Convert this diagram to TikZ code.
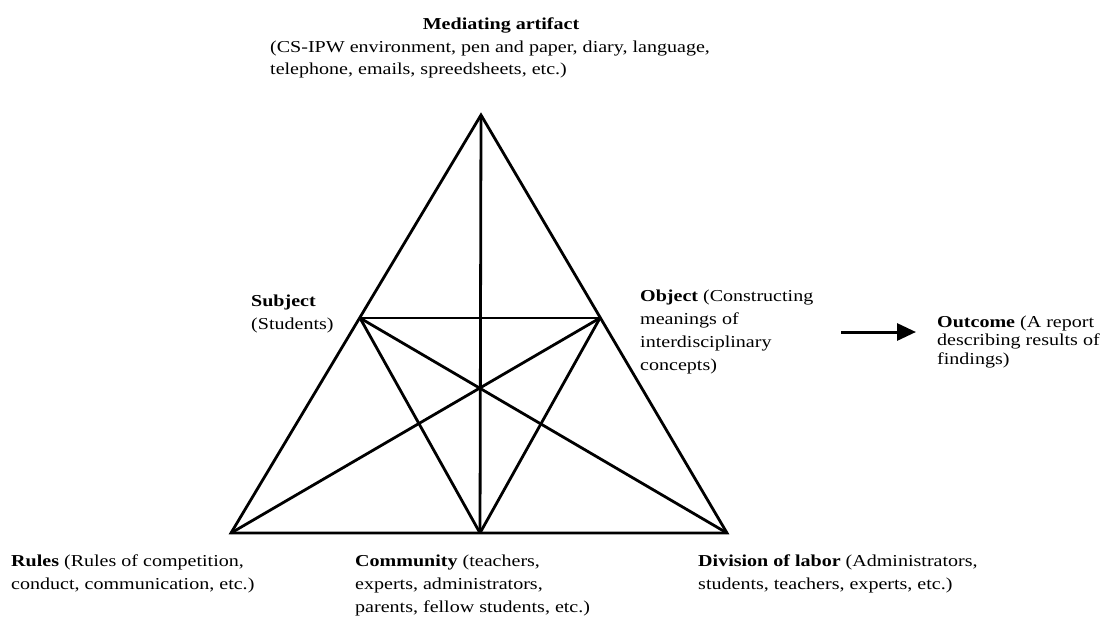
\documentclass[tikz,border=0pt]{standalone}
\usepackage{fontspec}
\setmainfont{Liberation Serif}[FakeStretch=1.2]
\usetikzlibrary{arrows.meta}
\newcommand{\Lbl}[1]{\begin{tabular}[t]{@{}l@{}}#1\end{tabular}}
\begin{document}
\begin{tikzpicture}[x=1pt,y=-1pt,
  edge/.style={line width=2.8pt, line join=miter},
  flow/.style={line width=3pt, -{Triangle[length=19pt,width=17pt]}},
  lbl/.style={anchor=base west, inner sep=0pt, font=\fontsize{16.7}{23}\selectfont}]
\useasboundingbox (0,0) rectangle (1105,619);
% vertices
\coordinate (M) at (481,115);
\coordinate (R) at (231,533);
\coordinate (C) at (480,533);
\coordinate (D) at (727,533);
\coordinate (S) at (360,318);
\coordinate (O) at (600,318);
% triangle and inner lines
\draw[edge] (M) -- (R) -- (D) -- cycle;
\draw[edge] (M) -- (C);
\draw[edge] (S) -- (O);
\draw[edge] (S) -- (C);
\draw[edge] (O) -- (C);
\draw[edge] (S) -- (D);
\draw[edge] (O) -- (R);
% outcome arrow
\coordinate (arrS) at (841,332);
\coordinate (arrE) at (916,332);
\draw[flow] (arrS) -- (arrE);
% labels
\node[lbl, anchor=base] (mtitle) at (501,29) {\textbf{Mediating artifact}};
\node[lbl, font=\fontsize{16.7}{22}\selectfont] (mtext) at (270,52) {\Lbl{(CS-IPW environment, pen and paper, diary, language,\\telephone, emails, spreedsheets, etc.)}};
\node[lbl] (subj) at (251,306) {\Lbl{\textbf{Subject}\\(Students)}};
\node[lbl] (obj) at (640,301) {\Lbl{\textbf{Object} (Constructing\\meanings of\\interdisciplinary\\concepts)}};
\node[lbl, font=\fontsize{16.7}{18.5}\selectfont] (out) at (937,327) {\Lbl{\textbf{Outcome} (A report\\describing results of\\findings)}};
\node[lbl] (rules) at (11,566) {\Lbl{\textbf{Rules} (Rules of competition,\\conduct, communication, etc.)}};
\node[lbl] (comm) at (355,566) {\Lbl{\textbf{Community} (teachers,\\experts, administrators,\\parents, fellow students, etc.)}};
\node[lbl] (div) at (698,566) {\Lbl{\textbf{Division of labor} (Administrators,\\students, teachers, experts, etc.)}};
\end{tikzpicture}
\end{document}
